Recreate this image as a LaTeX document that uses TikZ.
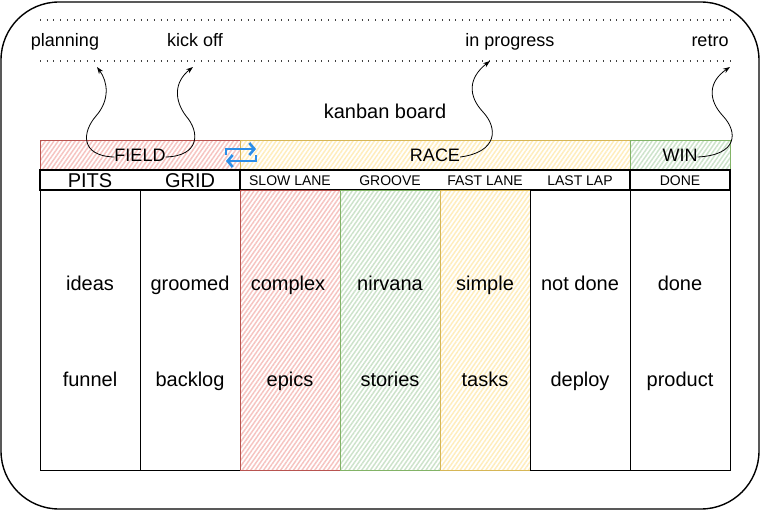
\documentclass[tikz,border=0pt]{standalone}
\usepackage{fontspec}
\setmainfont{Liberation Sans}
\usetikzlibrary{arrows.meta,patterns.meta}
\definecolor{redfill}{HTML}{F6C4C1}
\definecolor{redline}{HTML}{B85450}
\definecolor{greenfill}{HTML}{CDE3CB}
\definecolor{greenline}{HTML}{82B366}
\definecolor{yellowfill}{HTML}{FFEDBD}
\definecolor{yellowline}{HTML}{D6B656}
\definecolor{iconblue}{HTML}{2D8EE8}
\begin{document}
\begin{tikzpicture}[x=1pt,y=-1pt,
  box/.style={draw, line width=1pt, inner sep=0pt, outer sep=0pt, anchor=north west},
  hatchred/.style={pattern={Lines[angle=55,distance=3.5pt,line width=1.5pt]}, pattern color=redfill, draw=redline},
  hatchgreen/.style={pattern={Lines[angle=55,distance=3.5pt,line width=1.5pt]}, pattern color=greenfill, draw=greenline},
  hatchyellow/.style={pattern={Lines[angle=55,distance=3.5pt,line width=1.5pt]}, pattern color=yellowfill, draw=yellowline},
  colbox/.style={box, minimum height=280pt},
  bigtxt/.style={font=\fontsize{20}{24}\selectfont, inner sep=0pt, text height=14.4pt, text depth=4.2pt, yshift=-2pt},
  midtxt/.style={font=\fontsize{18}{22}\selectfont, inner sep=0pt, text height=13pt, text depth=3.8pt, yshift=-2pt},
  smalltxt/.style={font=\fontsize{14}{17}\selectfont, inner sep=0pt, text height=10pt, text depth=2.9pt, yshift=-1pt},
  conn/.style={-{Stealth[length=7pt,width=5pt]}, line width=0.8pt},
  dotline/.style={line width=1.2pt, dash pattern=on 1pt off 5.7pt, black!75}
]
\useasboundingbox (0,0) rectangle (761,511);
% outer frame
\draw[line width=1.4pt, rounded corners=58pt] (1,2) rectangle (759,509);
% dotted lines
\coordinate (d1a) at (40,20); \coordinate (d1b) at (731,20);
\coordinate (d2a) at (40,61); \coordinate (d2b) at (731,61);
\draw[dotline] (d1a) -- (d1b);
\draw[dotline] (d2a) -- (d2b);
% top labels
\node[midtxt] (planning) at (65,40) {planning};
\node[midtxt] (kickoff) at (195,40) {kick off};
\node[midtxt] (inprogress) at (510,40) {in progress};
\node[midtxt] (retro) at (710,40) {retro};
\node[bigtxt] (title) at (385,111) {kanban board};
% bars
\node[box, hatchred, minimum width=200pt, minimum height=29pt] (fieldbar) at (40,140) {};
\node[box, hatchyellow, minimum width=390pt, minimum height=29pt] (racebar) at (240,140) {};
\node[box, hatchgreen, minimum width=100pt, minimum height=29pt] (winbar) at (630,140) {};
\node[midtxt] (field) at (140,155) {FIELD};
\node[midtxt] (race) at (435,155) {RACE};
\node[midtxt] (win) at (680,155) {WIN};
% header boxes
\node[box, line width=1.3pt, minimum width=200pt, minimum height=20pt] (hdr1) at (40,170) {};
\node[box, line width=1.3pt, minimum width=390pt, minimum height=20pt] (hdr2) at (240,170) {};
\node[box, line width=1.3pt, minimum width=100pt, minimum height=20pt] (hdr3) at (630,170) {};
\node[bigtxt] (pits) at (90,180) {PITS};
\node[bigtxt] (grid) at (190,180) {GRID};
\node[smalltxt] (slow) at (290,181) {SLOW LANE};
\node[smalltxt] (groove) at (390,181) {GROOVE};
\node[smalltxt] (fast) at (485,181) {FAST LANE};
\node[smalltxt] (lastlap) at (580,181) {LAST LAP};
\node[smalltxt] (donehdr) at (680,181) {DONE};
% columns
\node[colbox, minimum width=100pt] (c1) at (40,190) {};
\node[colbox, minimum width=100pt] (c2) at (140,190) {};
\node[colbox, hatchred, minimum width=100pt] (c3) at (240,190) {};
\node[colbox, hatchgreen, minimum width=100pt] (c4) at (340,190) {};
\node[colbox, hatchyellow, minimum width=90pt] (c5) at (440,190) {};
\node[colbox, minimum width=100pt] (c6) at (530,190) {};
\node[colbox, minimum width=100pt] (c7) at (630,190) {};
% column texts
\node[bigtxt] (t1a) at (90,283) {ideas};
\node[bigtxt] (t2a) at (190,283) {groomed};
\node[bigtxt] (t3a) at (288,283) {complex};
\node[bigtxt] (t4a) at (390,283) {nirvana};
\node[bigtxt] (t5a) at (485,283) {simple};
\node[bigtxt] (t6a) at (580,283) {not done};
\node[bigtxt] (t7a) at (680,283) {done};
\node[bigtxt] (t1b) at (90,379) {funnel};
\node[bigtxt] (t2b) at (190,379) {backlog};
\node[bigtxt] (t3b) at (290,379) {epics};
\node[bigtxt] (t4b) at (390,379) {stories};
\node[bigtxt] (t5b) at (485,379) {tasks};
\node[bigtxt] (t6b) at (580,379) {deploy};
\node[bigtxt] (t7b) at (680,379) {product};
% swap icon
\coordinate (ia) at (226,155); \coordinate (ib) at (226,149); \coordinate (ic) at (256,149);
\coordinate (id) at (256,155); \coordinate (ie) at (256,161); \coordinate (if) at (226,161);
\draw[iconblue, line width=2.8pt, -{Straight Barb[length=5pt,width=12pt,line width=2.6pt]}] (ia) -- (ib) -- (ic);
\draw[iconblue, line width=2.8pt, -{Straight Barb[length=5pt,width=12pt,line width=2.6pt]}] (id) -- (ie) -- (if);
% arrow targets
\coordinate (tplan) at (97,67);
\coordinate (tkick) at (193,67);
\coordinate (tprog) at (490,61);
\coordinate (tretro) at (730,67);
\draw[conn] (field.west) .. controls (80,156) and (82,132) .. (96,116) .. controls (110,100) and (108,82) .. (tplan);
\draw[conn] (field.east) .. controls (200,156) and (200,132) .. (186,116) .. controls (174,100) and (174,82) .. (tkick);
\draw[conn] (race.east) .. controls (498,152) and (498,128) .. (483,112) .. controls (468,96) and (468,78) .. (tprog);
\draw[conn] (win.east) .. controls (738,155) and (738,132) .. (723,116) .. controls (708,100) and (708,82) .. (tretro);
\end{tikzpicture}
\end{document}
